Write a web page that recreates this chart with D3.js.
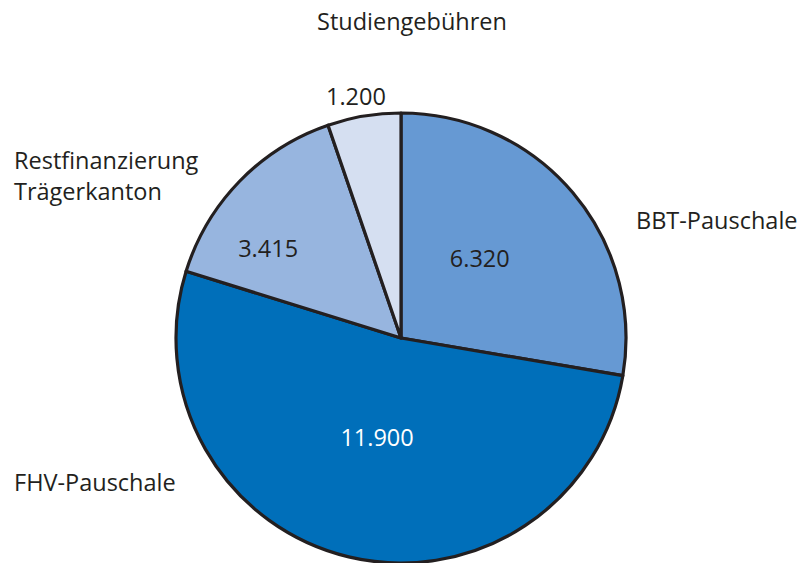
<!DOCTYPE html>
<html>
<head>
<meta charset="utf-8">
<script src="https://cdn.jsdelivr.net/npm/d3@7"></script>
<style>
  body { margin: 0; background: #fff; }
  text { font-family: "Open Sans", "Noto Sans", sans-serif; fill: #231f20; }
</style>
</head>
<body>
<svg id="chart"></svg>
<script>
// Data
const categories = ['BBT-Pauschale', 'FHV-Pauschale', 'Restfinanzierung Trägerkanton', 'Studiengebühren'];
const values = [6320, 11900, 3415, 1200];
const colors = ['#6699d3', '#006fba', '#97b5df', '#d5dff1'];

const width = 800, height = 563;
const cx = 401, cy = 338, radius = 225;
const fontSize = '23.5px';

const svg = d3.select('#chart').attr('width', width).attr('height', height);
const g = svg.append('g').attr('transform', `translate(${cx},${cy})`);

const pie = d3.pie().sort(null).value(d => d.value);
const arcs = pie(categories.map((c, i) => ({name: c, value: values[i], color: colors[i]})));
const arc = d3.arc().innerRadius(0).outerRadius(radius);

g.selectAll('path.slice')
  .data(arcs)
  .join('path')
  .attr('class', 'slice')
  .attr('d', arc)
  .attr('fill', d => d.data.color)
  .attr('stroke', '#231f20')
  .attr('stroke-width', 3.2)
  .attr('stroke-linejoin', 'round');

// value label placement: distance from centre + angle shift (radians) per slice
const valueLayout = [
  {r: 112, shift: -0.09, fill: '#231f20'},
  {r: 103, shift: 0, fill: '#ffffff'},
  {r: 160, shift: -0.18, fill: '#231f20'},
  {r: 245, shift: -0.02, fill: '#231f20'}
];
const fmt = v => d3.format(',')(v).replace(/,/g, '.');

g.selectAll('text.value')
  .data(arcs)
  .join('text')
  .attr('class', 'value')
  .attr('x', (d, i) => valueLayout[i].r * Math.sin((d.startAngle + d.endAngle) / 2 + valueLayout[i].shift))
  .attr('y', (d, i) => -valueLayout[i].r * Math.cos((d.startAngle + d.endAngle) / 2 + valueLayout[i].shift))
  .attr('dy', '0.35em')
  .attr('text-anchor', 'middle')
  .style('font-size', fontSize)
  .style('fill', (d, i) => valueLayout[i].fill)
  .text(d => fmt(d.data.value));

// category labels
const nameLayout = [
  {x: 636, y: 229, anchor: 'start', lines: ['BBT-Pauschale']},
  {x: 14, y: 491, anchor: 'start', lines: ['FHV-Pauschale']},
  {x: 14, y: 169, anchor: 'start', lines: ['Restfinanzierung', 'Trägerkanton']},
  {x: 412, y: 30, anchor: 'middle', lines: ['Studiengebühren']}
];

nameLayout.forEach(l => {
  const t = svg.append('text')
    .attr('x', l.x).attr('y', l.y)
    .attr('text-anchor', l.anchor)
    .style('font-size', fontSize);
  l.lines.forEach((s, j) => {
    t.append('tspan').attr('x', l.x).attr('dy', j === 0 ? 0 : 31).text(s);
  });
});
</script>
</body>
</html>
